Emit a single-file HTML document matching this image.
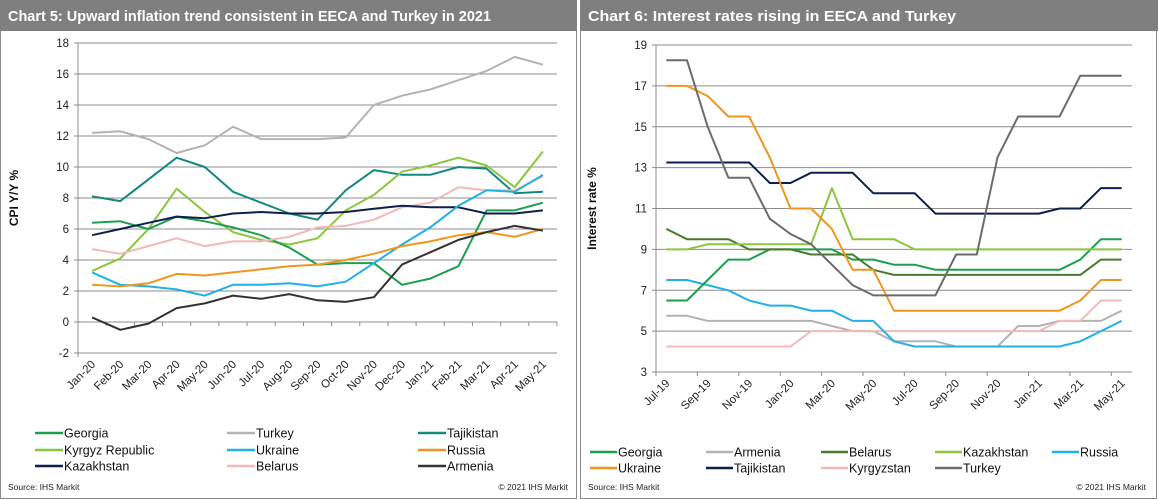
<!DOCTYPE html>
<html><head><meta charset="utf-8"><style>
body{margin:0;background:#fff;}
svg{display:block;font-family:"Liberation Sans",Arial,sans-serif;}
</style></head><body>
<svg id="s" width="1158" height="500" viewBox="0 0 1158 500">
<g>
<rect x="0.5" y="0.5" width="576" height="498" fill="#fff" stroke="#8a8a8a"/>
<rect x="0" y="0" width="577" height="31" fill="#7f7f7f"/>
<text x="8" y="21" fill="#fff" font-size="15" font-weight="bold" textLength="483" lengthAdjust="spacingAndGlyphs">Chart 5: Upward inflation trend consistent in EECA and Turkey in 2021</text>
<text x="8" y="490" font-size="8.5" fill="#222">Source:  IHS Markit</text>
<text x="568" y="490" font-size="8.5" fill="#222" text-anchor="end">© 2021  IHS Markit</text>
</g>
<g>
<rect x="580.5" y="0.5" width="576" height="498" fill="#fff" stroke="#8a8a8a"/>
<rect x="580" y="0" width="578" height="31" fill="#7f7f7f"/>
<text x="588" y="21" fill="#fff" font-size="15" font-weight="bold" textLength="368" lengthAdjust="spacingAndGlyphs">Chart 6: Interest rates rising in EECA and Turkey</text>
<text x="588" y="490" font-size="8.5" fill="#222">Source: IHS Markit</text>
<text x="1146" y="490" font-size="8.5" fill="#222" text-anchor="end">© 2021  IHS Markit</text>
</g>
<g id="c5"></g>
<g id="c6"></g>
</svg>
<script>
// ---- Chart 5 data ----
const c5Categories = ["Jan-20","Feb-20","Mar-20","Apr-20","May-20","Jun-20","Jul-20","Aug-20","Sep-20","Oct-20","Nov-20","Dec-20","Jan-21","Feb-21","Mar-21","Apr-21","May-21"];
const c5Ticks = [-2,0,2,4,6,8,10,12,14,16,18];
const c5Turkey = [12.2,12.3,11.8,10.9,11.4,12.6,11.8,11.8,11.8,11.9,14.0,14.6,15.0,15.6,16.2,17.1,16.6];
const c5Tajikistan = [8.1,7.8,9.2,10.6,10.0,8.4,7.7,7.0,6.6,8.5,9.8,9.5,9.5,10.0,9.9,8.3,8.4];
const c5Kyrgyz = [3.3,4.1,6.0,8.6,7.1,5.8,5.3,5.0,5.4,7.2,8.2,9.7,10.1,10.6,10.1,8.7,11.0];
const c5Georgia = [6.4,6.5,6.0,6.8,6.5,6.1,5.6,4.8,3.7,3.8,3.8,2.4,2.8,3.6,7.2,7.2,7.7];
const c5Kazakhstan = [5.6,6.0,6.4,6.8,6.7,7.0,7.1,7.0,7.0,7.1,7.3,7.5,7.4,7.4,7.0,7.0,7.2];
const c5Belarus = [4.7,4.4,4.9,5.4,4.9,5.2,5.2,5.5,6.1,6.2,6.6,7.4,7.7,8.7,8.5,8.5,9.4];
const c5Ukraine = [3.2,2.4,2.3,2.1,1.7,2.4,2.4,2.5,2.3,2.6,3.8,5.0,6.1,7.5,8.5,8.4,9.5];
const c5Russia = [2.4,2.3,2.5,3.1,3.0,3.2,3.4,3.6,3.7,4.0,4.4,4.9,5.2,5.6,5.8,5.5,6.0];
const c5Armenia = [0.3,-0.5,-0.1,0.9,1.2,1.7,1.5,1.8,1.4,1.3,1.6,3.7,4.5,5.3,5.8,6.2,5.9];

// ---- Chart 6 data ----
const c6Categories = ["Jul-19","Aug-19","Sep-19","Oct-19","Nov-19","Dec-19","Jan-20","Feb-20","Mar-20","Apr-20","May-20","Jun-20","Jul-20","Aug-20","Sep-20","Oct-20","Nov-20","Dec-20","Jan-21","Feb-21","Mar-21","Apr-21","May-21"];
const c6Ticks = [3,5,7,9,11,13,15,17,19];
const c6Turkey = [18.25,18.25,15,12.5,12.5,10.5,9.75,9.25,8.25,7.25,6.75,6.75,6.75,6.75,8.75,8.75,13.5,15.5,15.5,15.5,17.5,17.5,17.5];
const c6Ukraine = [17,17,16.5,15.5,15.5,13.5,11,11,10,8,8,6,6,6,6,6,6,6,6,6,6.5,7.5,7.5];
const c6Tajikistan = [13.25,13.25,13.25,13.25,13.25,12.25,12.25,12.75,12.75,12.75,11.75,11.75,11.75,10.75,10.75,10.75,10.75,10.75,10.75,11,11,12,12];
const c6Belarus = [10,9.5,9.5,9.5,9,9,9,8.75,8.75,8.75,8,7.75,7.75,7.75,7.75,7.75,7.75,7.75,7.75,7.75,7.75,8.5,8.5];
const c6Kazakhstan = [9,9,9.25,9.25,9.25,9.25,9.25,9.25,12,9.5,9.5,9.5,9,9,9,9,9,9,9,9,9,9,9];
const c6Georgia = [6.5,6.5,7.5,8.5,8.5,9,9,9,9,8.5,8.5,8.25,8.25,8,8,8,8,8,8,8,8.5,9.5,9.5];
const c6Russia = [7.5,7.5,7.25,7,6.5,6.25,6.25,6,6,5.5,5.5,4.5,4.25,4.25,4.25,4.25,4.25,4.25,4.25,4.25,4.5,5,5.5];
const c6Armenia = [5.75,5.75,5.5,5.5,5.5,5.5,5.5,5.5,5.25,5,5,4.5,4.5,4.5,4.25,4.25,4.25,5.25,5.25,5.5,5.5,5.5,6];
const c6Kyrgyzstan = [4.25,4.25,4.25,4.25,4.25,4.25,4.25,5,5,5,5,5,5,5,5,5,5,5,5,5.5,5.5,6.5,6.5];

const NS = "http://www.w3.org/2000/svg";
function mk(tag, attrs, parent){const e=document.createElementNS(NS,tag);for(const k in attrs)e.setAttribute(k,attrs[k]);parent.appendChild(e);return e;}

function drawChart(g, cfg){
  const {x0,x1,yTop,yBot,vMin,vMax,cats,ticks,series,labelEvery,tickLineY,tickEvery,axisTitle,titleX} = cfg;
  const band=(x1-x0)/cats.length;
  const xs=i=>x0+band*(i+0.5);
  const ys=v=>yBot-(v-vMin)/(vMax-vMin)*(yBot-yTop);
  ticks.forEach(t=>{
    const l=mk('line',{x1:x0-4,x2:x1,y1:ys(t),y2:ys(t),stroke:'#8c8c8c','stroke-width':1},g);
    
    
    const tx=mk('text',{x:x0-9,y:ys(t)+4,'font-size':11.5,'text-anchor':'end',fill:'#222'},g);
    tx.textContent=t;
    
    
  });
  const ax=mk('line',{x1:x0,x2:x0,y1:yTop,y2:yBot+4,stroke:'#8c8c8c'},g);
  
  
  const ty=ys(tickLineY);
  for(let i=0;i<=cats.length;i+=tickEvery){
    const xx=x0+band*i;
    const tk=mk('line',{x1:xx,x2:xx,y1:ty,y2:ty+4,stroke:'#8c8c8c'},g);
    
    
  }
  cats.forEach((c,i)=>{
    if(i%labelEvery) return;
    const lx=xs(i)+4, ly=yBot+12;
    const t=mk('text',{x:lx,y:ly,'font-size':11.5,'text-anchor':'end',fill:'#222',transform:`rotate(-45 ${lx} ${ly})`},g);
    t.textContent=c;
    
    
  });
  const at=mk('text',{x:titleX,y:(yTop+yBot)/2,'font-size':12,'font-weight':'bold','text-anchor':'middle',fill:'#111',transform:`rotate(-90 ${titleX} ${(yTop+yBot)/2})`},g);
  at.textContent=axisTitle;
  
  
  series.forEach(s=>{
    const p=mk('polyline',{points:s.data.map((v,i)=>xs(i).toFixed(1)+','+ys(v).toFixed(1)).join(' '),fill:'none',stroke:s.color,'stroke-width':2,'stroke-linejoin':'round'},g);
    
    
  });
}
function legend(g, items, len){
  items.forEach(it=>{
    const l=mk('line',{x1:it.x,x2:it.x+len,y1:it.y,y2:it.y,stroke:it.color,'stroke-width':2.5},g);
    
    
    const t=mk('text',{x:it.x+len+1,y:it.y+4.5,'font-size':12.5,fill:'#111'},g);
    t.textContent=it.label;
    
    
  });
}
const C={georgia:'#1e9e4f',turkey:'#b3b3b3',taj:'#14877e',kyr:'#8cc63f',ukr:'#21b1e6',rus:'#f0961e',kaz:'#0c1f4e',bel:'#f4b8b8',arm:'#333333',bel6:'#4a7a2c',tur6:'#6b6b6b'};
const g5=document.getElementById('c5');
drawChart(g5,{x0:78,x1:557,yTop:43,yBot:353,vMin:-2,vMax:18,cats:c5Categories,ticks:c5Ticks,labelEvery:1,tickLineY:0,tickEvery:1,axisTitle:'CPI Y/Y %',titleX:18,
 series:[
  {key:'turkey',data:c5Turkey,color:C.turkey},{key:'tajikistan',data:c5Tajikistan,color:C.taj},{key:'kyrgyz-republic',data:c5Kyrgyz,color:C.kyr},
  {key:'georgia',data:c5Georgia,color:C.georgia},{key:'belarus',data:c5Belarus,color:C.bel},{key:'kazakhstan',data:c5Kazakhstan,color:C.kaz},
  {key:'ukraine',data:c5Ukraine,color:C.ukr},{key:'russia',data:c5Russia,color:C.rus},{key:'armenia',data:c5Armenia,color:C.arm}]});
legend(g5,[
 {x:35,y:433,label:'Georgia',color:C.georgia},{x:227,y:433,label:'Turkey',color:C.turkey},{x:418,y:433,label:'Tajikistan',color:C.taj},
 {x:35,y:450,label:'Kyrgyz Republic',color:C.kyr},{x:227,y:450,label:'Ukraine',color:C.ukr},{x:418,y:450,label:'Russia',color:C.rus},
 {x:35,y:466,label:'Kazakhstan',color:C.kaz},{x:227,y:466,label:'Belarus',color:C.bel},{x:418,y:466,label:'Armenia',color:C.arm}],28);
const g6=document.getElementById('c6');
drawChart(g6,{x0:656,x1:1132,yTop:45,yBot:372,vMin:3,vMax:19,cats:c6Categories,ticks:c6Ticks,labelEvery:2,tickLineY:3,tickEvery:2,axisTitle:'Interest rate %',titleX:596,
 series:[
  {key:'armenia',data:c6Armenia,color:C.turkey},{key:'kyrgyzstan',data:c6Kyrgyzstan,color:C.bel},{key:'russia',data:c6Russia,color:C.ukr},
  {key:'georgia',data:c6Georgia,color:C.georgia},{key:'belarus',data:c6Belarus,color:C.bel6},{key:'kazakhstan',data:c6Kazakhstan,color:C.kyr},
  {key:'tajikistan',data:c6Tajikistan,color:C.kaz},{key:'ukraine',data:c6Ukraine,color:C.rus},{key:'turkey',data:c6Turkey,color:C.tur6}]});
legend(g6,[
 {x:590,y:452,label:'Georgia',color:C.georgia},{x:706,y:452,label:'Armenia',color:C.turkey},{x:821,y:452,label:'Belarus',color:C.bel6},{x:935,y:452,label:'Kazakhstan',color:C.kyr},{x:1052,y:452,label:'Russia',color:C.ukr},
 {x:590,y:468,label:'Ukraine',color:C.rus},{x:706,y:468,label:'Tajikistan',color:C.kaz},{x:821,y:468,label:'Kyrgyzstan',color:C.bel},{x:935,y:468,label:'Turkey',color:C.tur6}],27);
</script>
</body></html>
